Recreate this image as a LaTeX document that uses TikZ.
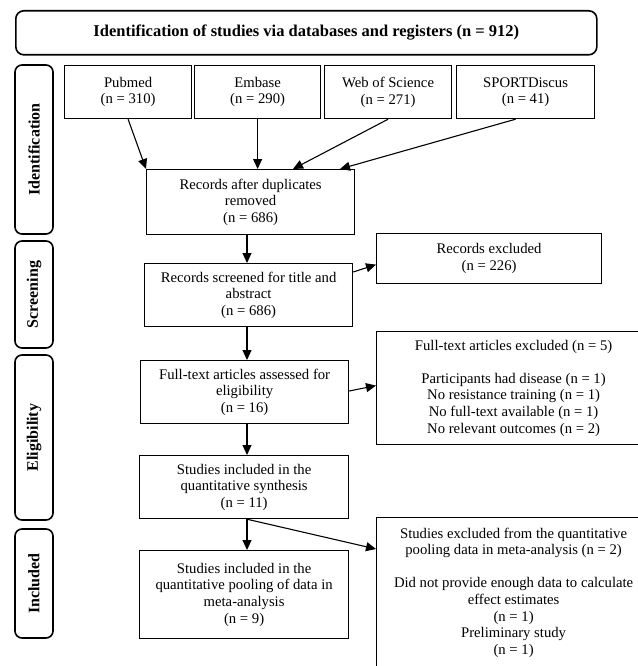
\documentclass[tikz,border=0pt]{standalone}
\usepackage{fontspec}
\setmainfont{Liberation Serif}
\usetikzlibrary{arrows.meta,calc}
\begin{document}
\begin{tikzpicture}[x=1pt,y=-1pt,
  box/.style={draw, line width=1.2pt, inner sep=0pt, align=center,
    font=\fontsize{14.7}{16.6}\selectfont, anchor=north west},
  stage/.style={draw, line width=1.6pt, rounded corners=7pt, inner sep=0pt,
    font=\fontsize{16}{18}\selectfont\bfseries, rotate=90, minimum height=38pt},
  arr/.style={line width=1.1pt, -{Triangle[length=10pt,width=9pt]}}]
\useasboundingbox (0,0) rectangle (637,666);
% title
\node[draw, line width=1.6pt, rounded corners=8pt, minimum width=581pt, minimum height=44pt,
  anchor=north west, inner sep=0pt, font=\fontsize{16.5}{19}\selectfont\bfseries] (title) at (15,10)
  {Identification of studies via databases and registers (n = 912)};
% stage labels
\node[stage, minimum width=169pt] (sid) at (34,149.5) {Identification};
\node[stage, minimum width=107pt] (sscr) at (34,294.5) {Screening};
\node[stage, minimum width=165pt] (selig) at (34,437.5) {Eligibility};
\node[stage, minimum width=109pt] (sinc) at (34,583.5) {Included};
% sources
\node[box, minimum width=127pt, minimum height=53pt] (pub) at (64,65) {Pubmed\\(n = 310)};
\node[box, minimum width=126pt, minimum height=53pt] (emb) at (194,65) {Embase\\(n = 290)};
\node[box, minimum width=127pt, minimum height=53pt] (wos) at (324,65) {Web of Science\\(n = 271)};
\node[box, minimum width=138pt, minimum height=53pt] (spo) at (456,65) {SPORTDiscus\\(n = 41)};
% main column
\node[box, minimum width=208pt, minimum height=65pt] (dup) at (146,169) {Records after duplicates\\removed\\(n = 686)};
\node[box, minimum width=208pt, minimum height=63pt] (scr) at (144,263) {Records screened for title and\\abstract\\(n = 686)};
\node[box, minimum width=208pt, minimum height=63pt] (ft) at (140,360) {Full-text articles assessed for\\eligibility\\(n = 16)};
\node[box, minimum width=209pt, minimum height=63pt] (syn) at (139,455) {Studies included in the\\quantitative synthesis\\(n = 11)};
\node[box, minimum width=209pt, minimum height=88pt] (pool) at (139,550) {Studies included in the\\quantitative pooling of data in\\meta-analysis\\(n = 9)};
% exclusions
\node[box, minimum width=225pt, minimum height=50pt] (recex) at (376,233) {Records excluded\\(n = 226)};
\node[box, minimum width=274pt, minimum height=113pt] (ftex) at (376,331) {Full-text articles excluded (n = 5)\\[16.6pt]Participants had disease (n = 1)\\No resistance training (n = 1)\\No full-text available (n = 1)\\No relevant outcomes (n = 2)};
\node[box, minimum width=274pt, minimum height=150pt] (stex) at (376,517) {Studies excluded from the quantitative\\pooling data in meta-analysis (n = 2)\\[16.6pt]Did not provide enough data to calculate\\effect estimates\\(n = 1)\\Preliminary study\\(n = 1)};
% connectors
\coordinate (spine) at (247,0);
\draw[arr] (pub.south) -- (dup.north west);
\draw[arr] (emb.south) -- (emb.south |- dup.north);
\draw[arr] (wos.south) -- ([xshift=147pt]dup.north west);
\draw[arr] ([xshift=-10pt]spo.south) -- ([xshift=194pt]dup.north west);
\draw[arr] (dup.south -| spine) -- (scr.north -| spine);
\draw[arr] (scr.south -| spine) -- (ft.north -| spine);
\draw[arr] (ft.south -| spine) -- (syn.north -| spine);
\draw[arr] (syn.south -| spine) -- (pool.north -| spine);
\draw[arr] ([yshift=-9pt]scr.north east) -- ([yshift=-6pt]recex.west);
\draw[arr] ([yshift=-31pt]ft.north east) -- ([yshift=2.5pt]ftex.west);
\draw[arr] (syn.south -| spine) -- ([yshift=-32pt]stex.north west);
\end{tikzpicture}
\end{document}
